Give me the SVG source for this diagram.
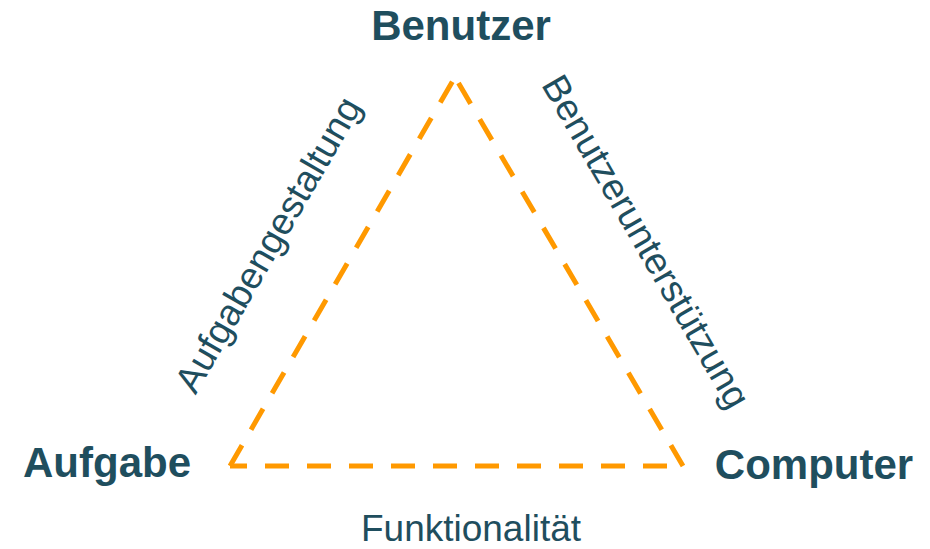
<svg xmlns="http://www.w3.org/2000/svg" width="930" height="549" viewBox="0 0 930 549">
<style>
.node{font-family:"Liberation Sans",Arial,sans-serif;font-weight:bold;font-size:42px;fill:#1f4e5e}
.lbl{font-family:"Liberation Sans",Arial,sans-serif;font-size:37.5px;fill:#1f4e5e}
.edge{stroke:#ff9900;stroke-width:5;fill:none;stroke-dasharray:24 18}
</style>
<rect width="930" height="549" fill="#fff"/>
<g id="connectors">
<line class="edge" x1="230" y1="466" x2="455" y2="77"/>
<line class="edge" x1="683" y1="466" x2="455" y2="77"/>
<line class="edge" x1="683" y1="466" x2="230" y2="466" stroke-dashoffset="26"/>
<text class="lbl" text-anchor="middle" transform="translate(279,251) rotate(-60)">Aufgabengestaltung</text>
<text class="lbl" text-anchor="middle" transform="translate(635,248) rotate(60)">Benutzerunterstützung</text>
<text class="lbl" text-anchor="middle" x="471" y="541" style="font-size:37px">Funktionalität</text>
</g>
<g id="benutzer"><text class="node" text-anchor="middle" x="461" y="40">Benutzer</text></g>
<g id="aufgabe"><text class="node" text-anchor="middle" x="107" y="477">Aufgabe</text></g>
<g id="computer"><text class="node" text-anchor="middle" x="814" y="479">Computer</text></g>
</svg>
